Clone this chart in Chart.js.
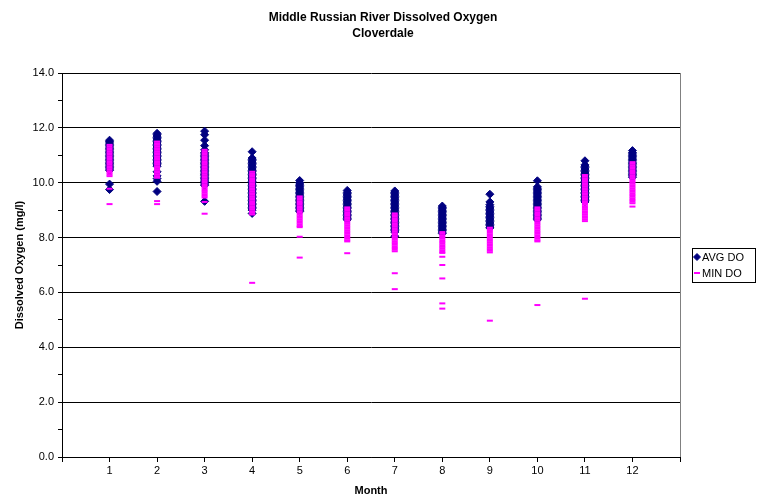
<!DOCTYPE html>
<html>
<head>
<meta charset="utf-8">
<title>Middle Russian River Dissolved Oxygen - Cloverdale</title>
<script src="https://cdn.jsdelivr.net/npm/chart.js@4.4.1/dist/chart.umd.min.js"></script>
<style>
    body { margin: 0; background: #fff; }
    #chart { display: block; }
</style>
</head>
<body>
<canvas id="chart" width="761" height="501"></canvas>
<script>
// months on the x axis
const months = [1, 2, 3, 4, 5, 6, 7, 8, 9, 10, 11, 12];

// daily average dissolved oxygen (mg/l), one list per month
const avgDO = [
    [11.55, 11.5, 11.45, 11.4, 11.35, 11.3, 11.25, 11.2, 11.15, 11.1, 11.05, 11.0, 10.95, 10.9, 10.85, 10.8, 10.75, 10.7, 10.65, 10.6, 10.55, 10.5, 10.45, 9.95, 9.75],
    [11.8, 11.75, 11.7, 11.65, 11.6, 11.55, 11.5, 11.45, 11.4, 11.35, 11.3, 11.25, 11.2, 11.15, 11.1, 11.05, 11.0, 10.95, 10.9, 10.85, 10.8, 10.75, 10.7, 10.65, 10.6, 10.4, 10.25, 10.15, 10.05, 9.68],
    [11.88, 11.75, 11.55, 11.35, 11.2, 11.1, 11.05, 11.0, 10.95, 10.9, 10.85, 10.8, 10.75, 10.7, 10.65, 10.6, 10.55, 10.5, 10.45, 10.4, 10.35, 10.3, 10.25, 10.2, 10.15, 10.1, 10.05, 10.0, 9.95, 9.9, 9.32],
    [11.13, 10.9, 10.85, 10.8, 10.75, 10.7, 10.65, 10.6, 10.55, 10.5, 10.45, 10.4, 10.35, 10.3, 10.25, 10.2, 10.15, 10.1, 10.05, 10.0, 9.95, 9.9, 9.85, 9.8, 9.75, 9.7, 9.65, 9.6, 9.55, 9.5, 9.45, 9.4, 9.35, 9.3, 9.25, 9.2, 9.15, 9.1, 9.05, 9.0, 8.88],
    [10.08, 10.0, 9.95, 9.9, 9.85, 9.8, 9.75, 9.7, 9.65, 9.6, 9.55, 9.5, 9.45, 9.4, 9.35, 9.3, 9.25, 9.2, 9.15, 9.1, 9.05, 9.0, 8.95],
    [9.72, 9.65, 9.6, 9.55, 9.5, 9.45, 9.4, 9.35, 9.3, 9.25, 9.2, 9.15, 9.1, 9.05, 9.0, 8.95, 8.9, 8.85, 8.8, 8.75, 8.7, 8.65],
    [9.7, 9.65, 9.6, 9.55, 9.5, 9.45, 9.4, 9.35, 9.3, 9.25, 9.2, 9.15, 9.1, 9.05, 9.0, 8.95, 8.9, 8.85, 8.8, 8.75, 8.7, 8.65, 8.6, 8.55, 8.5, 8.45, 8.4, 8.35, 8.3, 8.25, 8.2, 8.05],
    [9.15, 9.1, 9.05, 9.0, 8.95, 8.9, 8.85, 8.8, 8.75, 8.7, 8.65, 8.6, 8.55, 8.5, 8.45, 8.4, 8.35, 8.3, 8.25, 8.2, 8.15],
    [9.58, 9.3, 9.2, 9.13, 9.08, 9.03, 8.98, 8.93, 8.88, 8.83, 8.78, 8.73, 8.68, 8.63, 8.58, 8.53, 8.48, 8.43, 8.38, 8.35],
    [10.07, 9.85, 9.8, 9.75, 9.7, 9.65, 9.6, 9.55, 9.5, 9.45, 9.4, 9.35, 9.3, 9.25, 9.2, 9.15, 9.1, 9.05, 9.0, 8.95, 8.9, 8.85, 8.8, 8.75, 8.7, 8.65],
    [10.8, 10.65, 10.6, 10.55, 10.5, 10.45, 10.4, 10.35, 10.3, 10.25, 10.2, 10.15, 10.1, 10.05, 10.0, 9.95, 9.9, 9.85, 9.8, 9.75, 9.7, 9.65, 9.6, 9.55, 9.5, 9.45, 9.4, 9.35, 9.3],
    [11.17, 11.1, 11.05, 11.0, 10.95, 10.9, 10.85, 10.8, 10.75, 10.7, 10.65, 10.6, 10.55, 10.5, 10.45, 10.4, 10.35, 10.3, 10.25, 10.2]
];

// daily minimum dissolved oxygen (mg/l), one list per month
const minDO = [
    [11.38, 11.32, 11.26, 11.2, 11.14, 11.08, 11.02, 10.96, 10.9, 10.84, 10.78, 10.72, 10.66, 10.6, 10.54, 10.48, 10.42, 10.36, 10.3, 10.24, 9.78, 9.22],
    [11.5, 11.44, 11.38, 11.32, 11.26, 11.2, 11.14, 11.08, 11.02, 10.96, 10.9, 10.84, 10.78, 10.72, 10.66, 10.6, 10.54, 10.48, 10.42, 10.36, 10.3, 10.24, 10.18, 9.33, 9.22],
    [11.2, 11.14, 11.08, 11.02, 10.96, 10.9, 10.84, 10.78, 10.72, 10.66, 10.6, 10.54, 10.48, 10.42, 10.36, 10.3, 10.24, 10.18, 10.12, 10.06, 10.0, 9.94, 9.88, 9.82, 9.76, 9.7, 9.64, 9.58, 9.52, 9.46, 9.3, 8.87],
    [10.4, 10.34, 10.28, 10.22, 10.16, 10.1, 10.04, 9.98, 9.92, 9.86, 9.8, 9.74, 9.68, 9.62, 9.56, 9.5, 9.44, 9.38, 9.32, 9.26, 9.2, 9.14, 9.08, 9.02, 8.96, 8.9, 8.84, 6.35],
    [9.5, 9.44, 9.38, 9.32, 9.26, 9.2, 9.14, 9.08, 9.02, 8.96, 8.9, 8.84, 8.78, 8.72, 8.66, 8.6, 8.54, 8.48, 8.42, 8.38, 8.03, 7.27],
    [9.1, 9.04, 8.98, 8.92, 8.86, 8.8, 8.74, 8.68, 8.62, 8.56, 8.5, 8.44, 8.38, 8.32, 8.26, 8.2, 8.14, 8.08, 8.02, 7.96, 7.9, 7.86, 7.43],
    [8.88, 8.82, 8.76, 8.7, 8.64, 8.58, 8.52, 8.46, 8.4, 8.34, 8.28, 8.22, 8.16, 8.1, 8.04, 7.98, 7.92, 7.86, 7.8, 7.74, 7.68, 7.62, 7.56, 7.5, 6.7, 6.12],
    [8.2, 8.14, 8.08, 8.02, 7.96, 7.9, 7.84, 7.78, 7.72, 7.66, 7.6, 7.54, 7.48, 7.44, 7.3, 7.0, 6.51, 5.6, 5.41],
    [8.36, 8.3, 8.24, 8.18, 8.12, 8.06, 8.0, 7.94, 7.88, 7.82, 7.76, 7.7, 7.64, 7.58, 7.52, 7.46, 4.97],
    [9.1, 9.04, 8.98, 8.92, 8.86, 8.8, 8.74, 8.68, 8.62, 8.56, 8.5, 8.44, 8.38, 8.32, 8.26, 8.2, 8.14, 8.08, 8.02, 7.96, 7.9, 7.86, 5.54],
    [10.28, 10.22, 10.16, 10.1, 10.04, 9.98, 9.92, 9.86, 9.8, 9.74, 9.68, 9.62, 9.56, 9.5, 9.44, 9.38, 9.32, 9.26, 9.2, 9.14, 9.08, 9.02, 8.96, 8.9, 8.84, 8.78, 8.72, 8.66, 8.6, 5.77],
    [10.75, 10.69, 10.63, 10.57, 10.51, 10.45, 10.39, 10.33, 10.27, 10.21, 10.15, 10.09, 10.03, 9.97, 9.91, 9.85, 9.79, 9.73, 9.67, 9.61, 9.55, 9.49, 9.43, 9.37, 9.31, 9.25, 9.13]
];

const seriesLabels = ["AVG DO", "MIN DO"];

function toPoints(lists) {
    const pts = [];
    lists.forEach((list, i) => {
        list.forEach(v => pts.push({ x: months[i], y: v }));
    });
    return pts;
}

const font = 'Arial, "Liberation Sans", sans-serif';

// right edge of the plot area is a grey line
const plotBorder = {
    id: "plotBorder",
    beforeDatasetsDraw(chart) {
        const { ctx, chartArea } = chart;
        ctx.save();
        ctx.strokeStyle = "#808080";
        ctx.lineWidth = 1;
        ctx.beginPath();
        ctx.moveTo(Math.round(chartArea.right) + 0.5, chartArea.top);
        ctx.lineTo(Math.round(chartArea.right) + 0.5, chartArea.bottom);
        ctx.stroke();
        ctx.restore();
    }
};

// boxed legend to the right of the plot
const boxLegend = {
    id: "boxLegend",
    afterDraw(chart) {
        const { ctx } = chart;
        const x = 692, y = 248, w = 63, h = 34;
        ctx.save();
        ctx.strokeStyle = "#000";
        ctx.lineWidth = 1;
        ctx.strokeRect(x + 0.5, y + 0.5, w, h);
        ctx.font = "11px " + font;
        ctx.textBaseline = "middle";
        chart.data.datasets.forEach((ds, i) => {
            const cy = y + 9 + i * 16;
            ctx.fillStyle = ds.backgroundColor;
            ctx.strokeStyle = ds.borderColor;
            ctx.lineWidth = ds.borderWidth;
            Chart.helpers.drawPoint(ctx, {
                pointStyle: ds.pointStyle,
                radius: i === 0 ? 3.5 : 3,
                borderWidth: ds.borderWidth
            }, x + 5, cy);
            ctx.fillStyle = "#000";
            ctx.fillText(ds.label, x + 10, cy + 0.5);
        });
        ctx.restore();
    }
};

new Chart(document.getElementById("chart"), {
    type: "scatter",
    data: {
        datasets: [
            {
                label: seriesLabels[0],
                data: toPoints(avgDO),
                pointStyle: "rectRot",
                pointRadius: 4,
                backgroundColor: "#000080",
                borderColor: "#000080",
                borderWidth: 1,
                order: 1
            },
            {
                label: seriesLabels[1],
                data: toPoints(minDO),
                pointStyle: "line",
                pointRadius: 3,
                backgroundColor: "#FF00FF",
                borderColor: "#FF00FF",
                borderWidth: 2,
                order: 0
            }
        ]
    },
    options: {
        responsive: false,
        animation: false,
        layout: { padding: { left: 5, right: 0, top: 0, bottom: 0 } },
        plugins: {
            legend: { display: false },
            tooltip: { enabled: false },
            title: {
                display: true,
                text: ["Middle Russian River Dissolved Oxygen", "Cloverdale"],
                color: "#000",
                font: { family: font, size: 12, weight: "bold", lineHeight: 16 / 12 },
                padding: { top: 10, bottom: 31 }
            }
        },
        scales: {
            x: {
                type: "linear",
                min: 0,
                max: 13,
                afterFit(scale) { scale.height = 44; },
                ticks: {
                    stepSize: 1,
                    color: "#000",
                    font: { family: font, size: 11 },
                    padding: 2,
                    maxRotation: 0,
                    autoSkip: false,
                    callback: v => (v >= 1 && v <= 12) ? String(v) : ""
                },
                grid: {
                    drawOnChartArea: false,
                    drawTicks: true,
                    tickLength: 5,
                    color: "#000"
                },
                border: { display: true, color: "#000", width: 1 },
                title: {
                    display: true,
                    text: "Month",
                    color: "#000",
                    font: { family: font, size: 11, weight: "bold" },
                    padding: { top: 0, bottom: 3 }
                }
            },
            y: {
                min: 0,
                max: 14,
                afterFit(scale) { scale.width = 57; },
                ticks: {
                    stepSize: 1,
                    color: "#000",
                    font: { family: font, size: 11 },
                    padding: 4,
                    autoSkip: false,
                    callback: v => (v % 2 === 0) ? v.toFixed(1) : ""
                },
                grid: {
                    drawTicks: true,
                    tickLength: 4,
                    color: c => (c.tick && c.tick.value % 2 === 0) ? "#000" : "rgba(0,0,0,0)",
                    tickColor: "#000"
                },
                border: { display: true, color: "#000", width: 1 },
                title: {
                    display: true,
                    text: "Dissolved Oxygen (mg/l)",
                    color: "#000",
                    font: { family: font, size: 11, weight: "bold" },
                    padding: { top: 8, bottom: 0 }
                }
            },
            // empty right-hand axis that reserves room for the legend
            yRight: {
                position: "right",
                min: 0,
                max: 14,
                afterFit(scale) { scale.width = 81; },
                ticks: { display: false },
                grid: { display: false },
                border: { display: false }
            }
        }
    },
    plugins: [plotBorder, boxLegend]
});
</script>
</body>
</html>
